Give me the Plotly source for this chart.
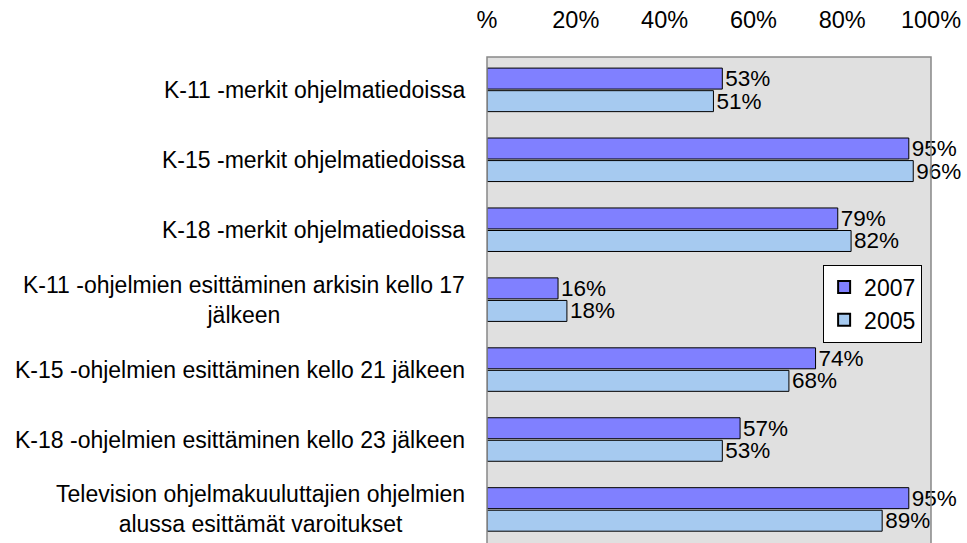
import plotly.graph_objects as go

categories = [
    "K-11 -merkit ohjelmatiedoissa",
    "K-15 -merkit ohjelmatiedoissa",
    "K-18 -merkit ohjelmatiedoissa",
    "K-11 -ohjelmien esittäminen arkisin kello 17<br>jälkeen",
    "K-15 -ohjelmien esittäminen kello 21 jälkeen",
    "K-18 -ohjelmien esittäminen kello 23 jälkeen",
    "Television ohjelmakuuluttajien ohjelmien<br>alussa esittämät varoitukset",
]
values_2007 = [53, 95, 79, 16, 74, 57, 95]
values_2005 = [51, 96, 82, 18, 68, 53, 89]
tick_vals = [0, 20, 40, 60, 80, 100]
tick_text = ["%", "20%", "40%", "60%", "80%", "100%"]

FONT = "Liberation Sans, Arial, sans-serif"
pos = list(range(len(categories)))

fig = go.Figure()
for name, vals, col in [("2007", values_2007, "#8080ff"), ("2005", values_2005, "#a6caf0")]:
    fig.add_trace(go.Bar(
        name=name, x=vals, y=pos, orientation="h",
        marker=dict(color=col, line=dict(color="#000000", width=1)),
        text=[f"{v}%" for v in vals], textposition="outside",
        textfont=dict(family=FONT, size=22.5, color="#000000"),
        constraintext="none", cliponaxis=False,
    ))

for i, c in enumerate(categories):
    fig.add_annotation(
        x=0, xref="paper", y=i, yref="y", text=c, showarrow=False,
        xanchor="right", yanchor="middle", align="center", xshift=-20,
        font=dict(family=FONT, size=23, color="#000000"),
    )

fig.add_shape(type="rect", xref="paper", yref="paper", x0=0, x1=1, y0=-0.05, y1=1,
              line=dict(color="#888888", width=1.5), fillcolor="rgba(0,0,0,0)", layer="above")

fig.update_layout(
    width=967, height=543,
    margin=dict(l=487, r=36, t=57, b=0),
    paper_bgcolor="#ffffff", plot_bgcolor="#e0e0e0",
    barmode="group", bargap=0.355, bargroupgap=0.07,
    showlegend=True,
    legend=dict(
        x=0.98, y=0.573, xanchor="right", yanchor="top",
        bgcolor="#ffffff", bordercolor="#000000", borderwidth=1,
        font=dict(family=FONT, size=23, color="#000000"),
        traceorder="normal", itemsizing="constant",
    ),
    xaxis=dict(
        range=[0, 100], side="top", tickvals=tick_vals, ticktext=tick_text,
        showgrid=False, zeroline=False, showline=False, ticks="",
        tickfont=dict(family=FONT, size=23.5, color="#000000"),
        ticklabelstandoff=23, fixedrange=True,
    ),
    yaxis=dict(
        range=[6.48, -0.47], showticklabels=False, showgrid=False,
        zeroline=False, showline=False, ticks="", fixedrange=True,
    ),
)

fig.write_html(
    "out.html",
    config={"displayModeBar": False},
    post_script="document.body.style.margin='0';document.body.style.overflow='hidden';",
)
